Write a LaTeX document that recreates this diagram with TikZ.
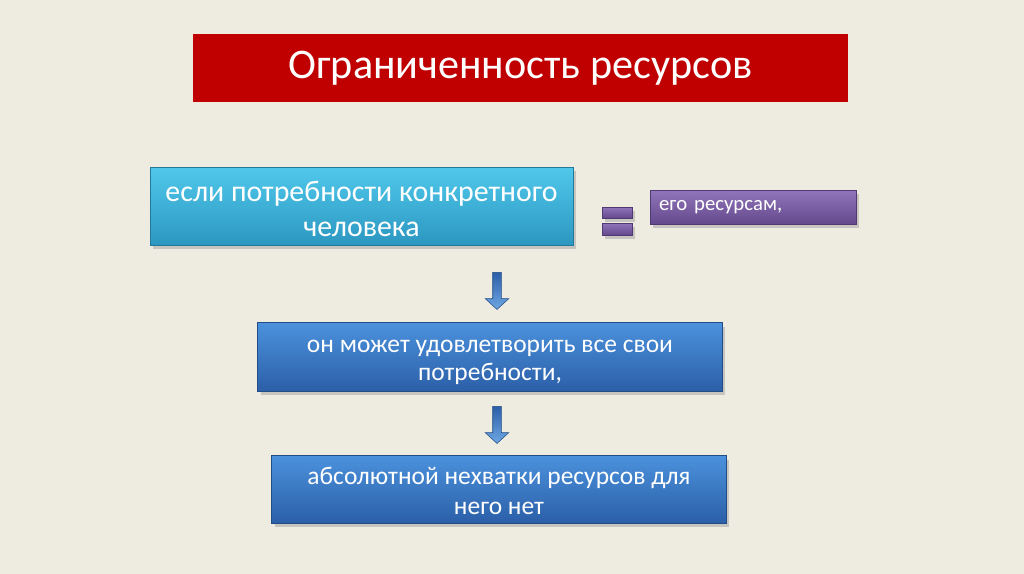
\documentclass[tikz,border=0pt]{standalone}
\usepackage{fontspec}
\setmainfont{Carlito}
\usetikzlibrary{positioning, shapes.arrows, shadows}
\definecolor{slidebg}{HTML}{EEEBE1}
\definecolor{titlered}{HTML}{C00000}
\definecolor{cyantop}{HTML}{50C8EB}
\definecolor{cyanbot}{HTML}{2C97C1}
\definecolor{bluetop}{HTML}{4B91DC}
\definecolor{bluebot}{HTML}{2B5FA8}
\definecolor{violtop}{HTML}{9175BA}
\definecolor{violbot}{HTML}{65498D}
\tikzset{
    x=0.02cm, y=-0.02cm, % one unit = one pixel of the slide
    every node/.style={text=white, align=center, inner sep=0pt},
    boxshadow/.style={drop shadow={opacity=0.35, shadow xshift=0.06cm, shadow yshift=-0.08cm}},
    titlebox/.style={
        fill=titlered,
        minimum width=13.1cm, minimum height=1.36cm,
        font=\fontsize{24}{28}\selectfont
    },
    cyanbox/.style={ % the upper condition box
        top color=cyantop, bottom color=cyanbot, draw=cyanbot!80!black, line width=0.4pt,
        boxshadow,
        font=\fontsize{17}{20.4}\selectfont,
        text height=1.24cm, text depth=0cm
    },
    bluebox/.style={
        top color=bluetop, bottom color=bluebot, draw=bluebot!80!black, line width=0.4pt,
        boxshadow,
        font=\fontsize{14.5}{16.4}\selectfont,
        text height=0.96cm, text depth=0cm
    },
    violbox/.style={
        top color=violtop, bottom color=violbot, draw=violbot!80!black, line width=0.4pt,
        boxshadow
    },
    downarrow/.style={ % blue block arrow between the boxes
        single arrow, rotate=-90,
        top color=bluebot, bottom color=bluetop!80!white, draw=bluebot!80!black, line width=0.3pt,
        inner sep=0.08cm, minimum height=0.74cm, minimum width=0.46cm,
        single arrow head extend=0.15cm, single arrow tip angle=95
    }
}
\begin{document}
\begin{tikzpicture}
    \useasboundingbox[fill=slidebg] (0,0) rectangle (1024,574);
    \node[titlebox] (title) at (520.5,68) {Ограниченность ресурсов};
    \node[cyanbox, minimum width=8.46cm, minimum height=1.56cm] (need) at (361.5,206)
        {если потребности конкретного\\человека};
    \node[violbox, minimum width=0.6cm, minimum height=0.22cm] (eqtop) at (617,212.5) {};
    \node[violbox, minimum width=0.6cm, minimum height=0.24cm] (eqbot) at (617,229) {};
    \node[violbox, minimum width=4.12cm, minimum height=0.68cm, text width=3.76cm, align=left,
          font=\fontsize{11.8}{13}\selectfont] (res) at (753,207) {его ресурсам,};
    \node[bluebox, minimum width=9.3cm, minimum height=1.38cm] (can) at (490,357)
        {он может удовлетворить все свои\\потребности,};
    \node[bluebox, minimum width=9.1cm, minimum height=1.36cm, text height=1.02cm,
          font=\fontsize{14.5}{17.5}\selectfont] (lack) at (499,489.5)
        {абсолютной нехватки ресурсов для\\него нет};
    \node[downarrow] (arr1) at (497,289) {};
    \node[downarrow] (arr2) at (497,423) {};
\end{tikzpicture}
\end{document}
